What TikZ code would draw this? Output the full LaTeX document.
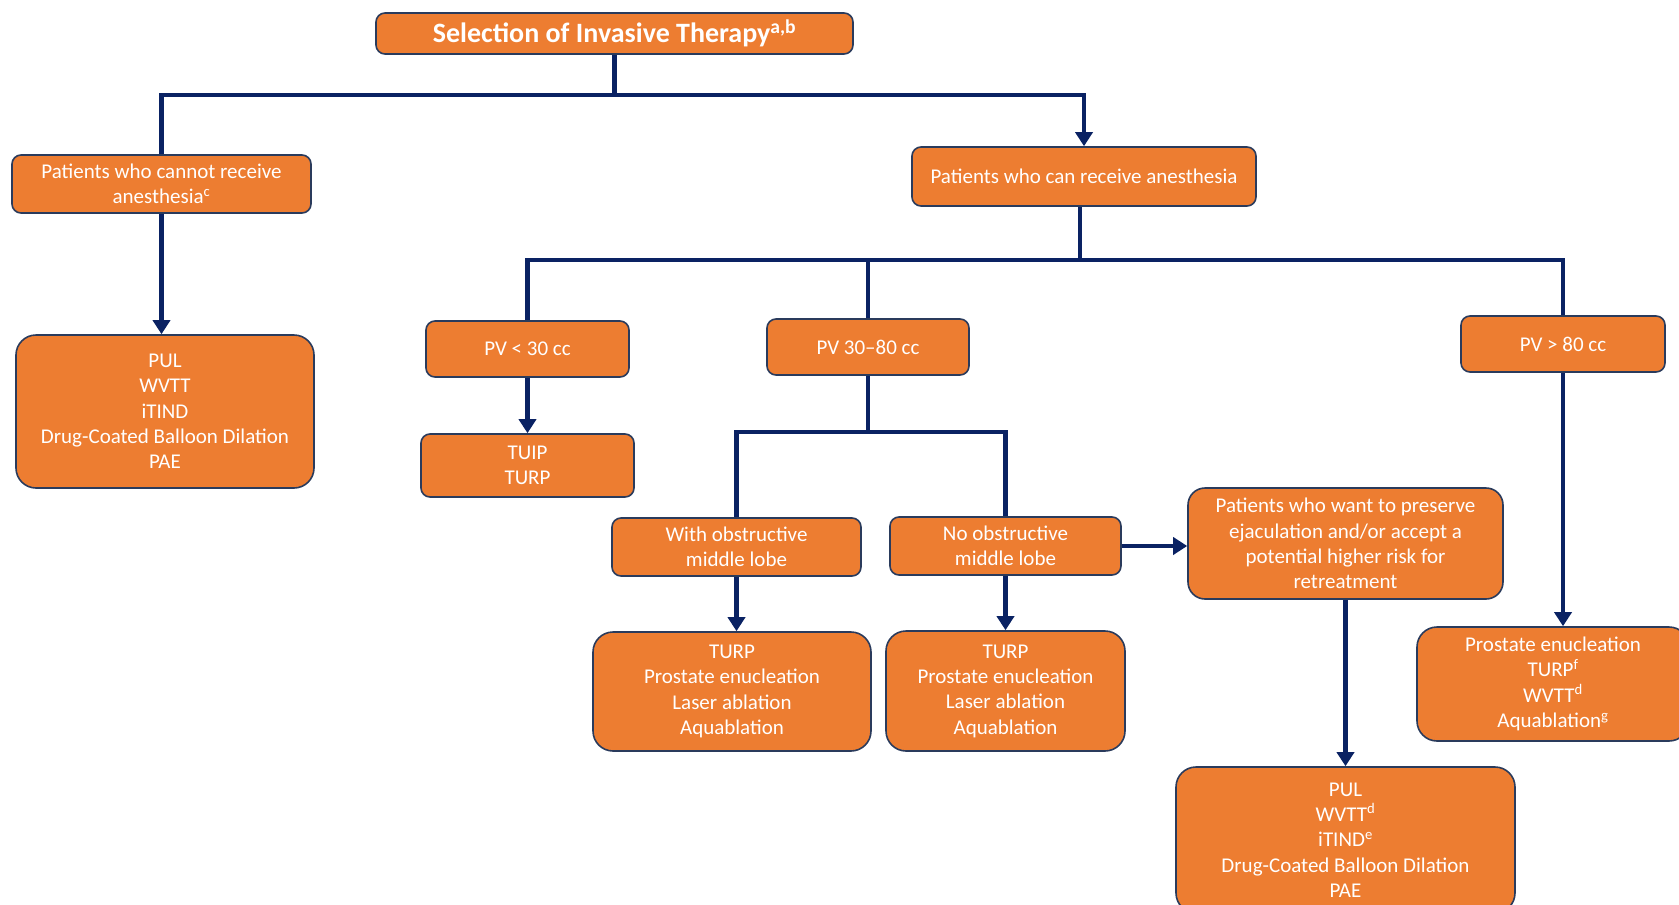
\documentclass[tikz,border=0pt]{standalone}
\usepackage{fontspec}
\setmainfont{Carlito}
\usetikzlibrary{arrows.meta}
\definecolor{boxfill}{HTML}{ED7D31}
\definecolor{boxedge}{HTML}{2A3B5C}
\definecolor{navy}{HTML}{0A2263}
\begin{document}
\begin{tikzpicture}[x=1pt,y=-1pt,
  box/.style={draw=boxedge, line width=1.6pt, fill=boxfill, text=white,
    rounded corners=9pt, align=center, inner sep=0pt,
    font=\fontsize{21}{25.3}\selectfont},
  bigbox/.style={box, rounded corners=20pt},
  link/.style={draw=navy, line width=4.5pt},
  arrow/.style={link, -{Triangle[width=17pt,length=14pt]}}]
\useasboundingbox (0,0) rectangle (1679,905);
\clip (0,0) rectangle (1679,905);

% boxes
\node[box, minimum width=477pt, minimum height=41pt,
  font=\fontsize{28}{32}\selectfont\bfseries] (title) at (614.5,33.5)
  {Selection of Invasive Therapy\textsuperscript{a,b}};
\node[box, minimum width=299pt, minimum height=58pt] (cannot) at (161.5,184)
  {Patients who cannot receive\\anesthesia\textsuperscript{c}};
\node[box, minimum width=344pt, minimum height=59pt] (can) at (1084,176.5)
  {Patients who can receive anesthesia};
\node[bigbox, minimum width=298pt, minimum height=153pt] (r1) at (165,411.5)
  {PUL\\WVTT\\iTIND\\Drug-Coated Balloon Dilation\\PAE};
\node[box, minimum width=203pt, minimum height=56pt] (pv30) at (527.5,349)
  {PV < 30 cc};
\node[box, minimum width=213pt, minimum height=63pt] (tuip) at (527.5,465.5)
  {TUIP\\TURP};
\node[box, minimum width=202pt, minimum height=56pt] (pv3080) at (868,347)
  {PV 30--80 cc};
\node[box, minimum width=204pt, minimum height=56pt] (pv80) at (1563,344)
  {PV > 80 cc};
\node[box, minimum width=249pt, minimum height=58pt] (with) at (736.5,547)
  {With obstructive\\middle lobe};
\node[box, minimum width=231pt, minimum height=58pt] (no) at (1005.5,546)
  {No obstructive\\middle lobe};
\node[bigbox, minimum width=278pt, minimum height=119pt] (rwith) at (732,691.5)
  {TURP\\Prostate enucleation\\Laser ablation\\Aquablation};
\node[bigbox, minimum width=239pt, minimum height=120pt] (rno) at (1005.5,691)
  {TURP\\Prostate enucleation\\Laser ablation\\Aquablation};
\node[box, rounded corners=17pt, minimum width=315pt, minimum height=111pt] (want) at (1345.5,543.5)
  {Patients who want to preserve\\ejaculation and/or accept a\\potential higher risk for\\retreatment};
\node[bigbox, minimum width=339pt, minimum height=146pt] (rwant) at (1345.5,840)
  {PUL\\WVTT\textsuperscript{d}\\iTIND\textsuperscript{e}\\Drug-Coated Balloon Dilation\\PAE};
\node[bigbox, minimum width=272pt, minimum height=114pt] (r80) at (1553,684)
  {Prostate enucleation\\TURP\textsuperscript{f}\\WVTT\textsuperscript{d}\\Aquablation\textsuperscript{g}};

% junction points
\coordinate (j1) at (614.5,95);
\coordinate (j2) at (1080,260);
\coordinate (j3) at (868,432);

% connectors
\draw[link] (title.south) -- (j1);
\draw[link] (cannot.north) |- (j1);
\draw[arrow] (j1) -| (can.north);
\draw[arrow] (cannot.south) -- (r1.north -| cannot.south);

\draw[link] (can.south -| j2) -- (j2);
\draw[link] (pv30.north) |- (j2);
\draw[link] (pv3080.north) |- (j2);
\draw[link] (j2) -| (pv80.north);

\draw[arrow] (pv30.south) -- (tuip.north);
\draw[link] (pv3080.south) -- (j3);
\draw[link] (with.north) |- (j3);
\draw[link] (j3) -| (no.north);

\draw[arrow] (with.south) -- (rwith.north -| with.south);
\draw[arrow] (no.south) -- (rno.north -| no.south);
\draw[arrow] (no.east) -- (want.west |- no.east);
\draw[arrow] (want.south) -- (rwant.north);
\draw[arrow] (pv80.south) -- (r80.north -| pv80.south);
\end{tikzpicture}
\end{document}
